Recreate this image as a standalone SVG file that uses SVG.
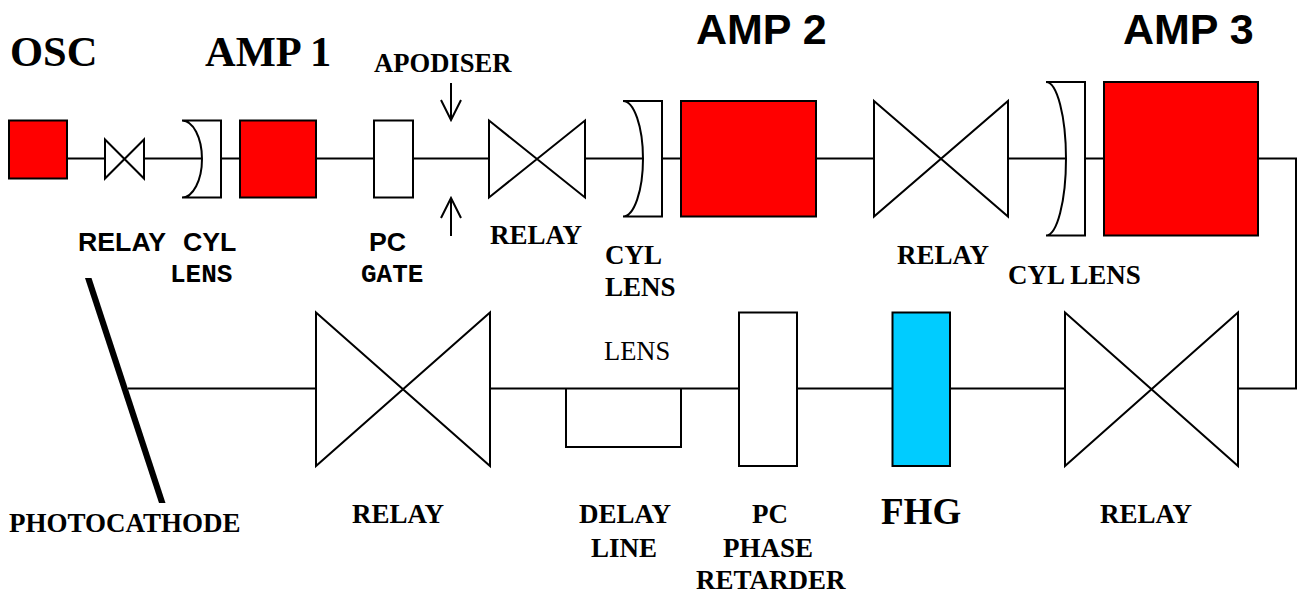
<svg xmlns="http://www.w3.org/2000/svg" width="1299" height="593" viewBox="0 0 1299 593">
<style>
.s{stroke:#000;stroke-width:2;fill:none}
.w{stroke:#000;stroke-width:2;fill:#fff}
.r{stroke:#000;stroke-width:2;fill:#f00}
.t{font-family:"Liberation Serif",serif;font-weight:bold;fill:#000}
.a{font-family:"Liberation Sans",sans-serif;font-weight:bold;fill:#000}
.m{font-family:"Liberation Mono",monospace;font-weight:bold;fill:#000}
.n{font-size:27px}
.h{font-size:42.500px}
</style>
<rect width="1299" height="593" fill="#fff"/>
<g id="connectors">
<path class="s" d="M67 158.500H105M144 158.500H201M221 158.500H240M316 158.500H374M413 158.500H489M585 158.500H643M662 158.500H681M816 158.500H874M1008 158.500H1066M1085 158.500H1104M1258 158.500H1296V388.500H1238M1065 388.500H950M892 388.500H797M739 388.500H490M316 388.500H128"/>
<path class="s" d="M451 83V120M441 100L451 120L461 100M451 236V198M441 218L451 198L461 218"/>
<polygon points="85,278 91.500,278 165.500,503 159,503" fill="#000"/>
</g>
<g id="osc"><rect class="r" x="9" y="120.500" width="58" height="58"/><text class="t h" x="10" y="65.500">OSC</text></g>
<g id="relay1"><path class="w" d="M105 139.500L144 178.500V139.500L105 178.500Z"/></g>
<g id="cyl1"><path class="w" d="M182 120.500H221V197.500H182A20 38.500 0 0 0 182 120.500Z"/></g>
<g id="amp1"><rect class="r" x="240" y="120.500" width="76" height="77"/><text class="t h" x="205" y="65.500">AMP 1</text></g>
<g id="pc-gate"><rect class="w" x="374" y="120.500" width="39" height="77"/></g>
<g id="relay2"><path class="w" d="M489 120.500L585 197.500V120.500L489 197.500Z"/></g>
<g id="cyl2"><path class="w" d="M623 101H662V216.500H623A20 57.750 0 0 0 623 101Z"/></g>
<g id="amp2"><rect class="r" x="681" y="101" width="135" height="115.500"/><text class="a" x="696" y="44" font-size="43">AMP 2</text></g>
<g id="relay3"><path class="w" d="M874 101L1008 216.500V101L874 216.500Z"/></g>
<g id="cyl3"><path class="w" d="M1046 82H1085V235.500H1046A20 76.750 0 0 0 1046 82Z"/></g>
<g id="amp3"><rect class="r" x="1104" y="82" width="154" height="153.500"/><text class="a" x="1123" y="44" font-size="43">AMP 3</text></g>
<g id="relay4"><path class="w" d="M1065 312.500L1238 466V312.500L1065 466Z"/></g>
<g id="fhg"><rect x="892.500" y="312.500" width="57.500" height="153.500" fill="#0cf" stroke="#000" stroke-width="2"/><text class="t" x="881" y="524" font-size="37">FHG</text></g>
<g id="pc-phase"><rect class="w" x="739" y="312.500" width="58" height="153.500"/></g>
<g id="delay"><path class="s" d="M566 388.500V447H681V388.500"/></g>
<g id="relay5"><path class="w" d="M316 312.500L490 466V312.500L316 466Z"/></g>
<g id="labels">
<text class="t" x="374" y="72" font-size="26.600">APODISER</text>
<text class="a" x="78" y="251" font-size="26.700">RELAY</text>
<text class="a" x="183" y="251" font-size="26.700">CYL</text>
<text class="m" x="170" y="282" font-size="26">LENS</text>
<text class="a" x="369" y="251" font-size="26.700">PC</text>
<text class="m" x="361" y="282" font-size="26">GATE</text>
<text class="t n" x="490" y="244">RELAY</text>
<text class="t n" x="605" y="264">CYL</text>
<text class="t n" x="605" y="296">LENS</text>
<text class="t n" x="897" y="264">RELAY</text>
<text class="t n" x="1008" y="284">CYL LENS</text>
<text x="604" y="360" font-size="26.500" font-family="Liberation Serif,serif">LENS</text>
<text class="t n" x="9" y="532">PHOTOCATHODE</text>
<text class="t n" x="352" y="523">RELAY</text>
<text class="t n" x="579" y="523">DELAY</text>
<text class="t n" x="591" y="557">LINE</text>
<text class="t n" x="752" y="523">PC</text>
<text class="t n" x="723" y="557">PHASE</text>
<text class="t n" x="696" y="589">RETARDER</text>
<text class="t n" x="1100" y="523">RELAY</text>
</g>
</svg>
